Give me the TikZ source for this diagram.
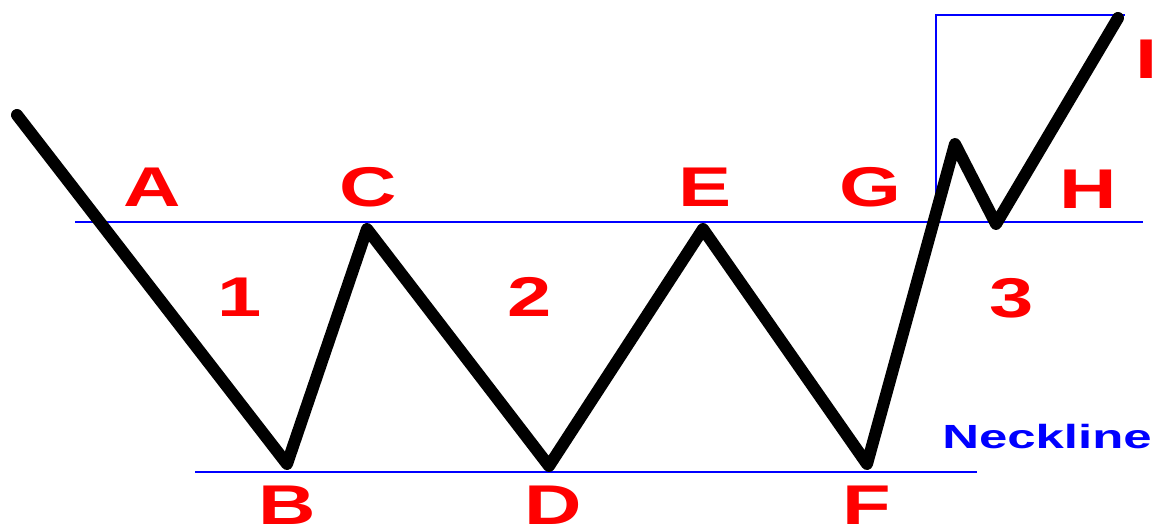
\documentclass[tikz,border=0pt]{standalone}
\usepackage{fontspec}
\setmainfont{Liberation Sans}
\tikzset{
  lbl/.style={text=red, font=\fontsize{56}{56}\selectfont\bfseries, xscale=1.42, inner sep=0pt},
  guide/.style={draw=blue, line width=1.3pt},
  price/.style={draw=black, line width=12pt, line join=round, line cap=round},
}
\begin{document}
\begin{tikzpicture}[x=1pt,y=-1pt]
\useasboundingbox[fill=white] (0,0) rectangle (1157,529);
% guide lines
\coordinate (ul1) at (75,222);
\coordinate (ul2) at (1143,222);
\coordinate (ll1) at (195,472);
\coordinate (ll2) at (977,472);
\coordinate (bx1) at (936,222);
\coordinate (bx2) at (936,15);
\coordinate (bx3) at (1125,15);
\draw[guide] (ul1) -- (ul2);
\draw[guide] (ll1) -- (ll2);
\draw[guide] (bx1) -- (bx2) -- (bx3);
% price path
\coordinate (p0) at (17,115);
\coordinate (pB) at (287,464);
\coordinate (pC) at (367,229);
\coordinate (pD) at (549,466);
\coordinate (pE) at (703,229);
\coordinate (pF) at (867,464);
\coordinate (pG) at (955,144);
\coordinate (pH) at (996,224);
\coordinate (pI) at (1118,18);
\draw[price] (p0) -- (pB) -- (pC) -- (pD) -- (pE) -- (pF) -- (pG) -- (pH) -- (pI);
% labels
\node[lbl] (A) at (152,187) {A};
\node[lbl] (C) at (368,187) {C};
\node[lbl] (E) at (705,187) {E};
\node[lbl] (G) at (870,187) {G};
\node[lbl] (H) at (1088,189) {H};
\node[lbl] (I) at (1147,59) {I};
\node[lbl] (n1) at (240,297) {1};
\node[lbl] (n2) at (530,297) {2};
\node[lbl] (n3) at (1012,298) {3};
\node[lbl] (B) at (287,505) {B};
\node[lbl] (D) at (553,505) {D};
\node[lbl] (F) at (867,505) {F};
\node[text=blue, font=\fontsize{33.5}{33.5}\selectfont\bfseries, xscale=1.52, inner sep=0pt] (neck) at (1047,437) {Neckline};
\end{tikzpicture}
\end{document}
